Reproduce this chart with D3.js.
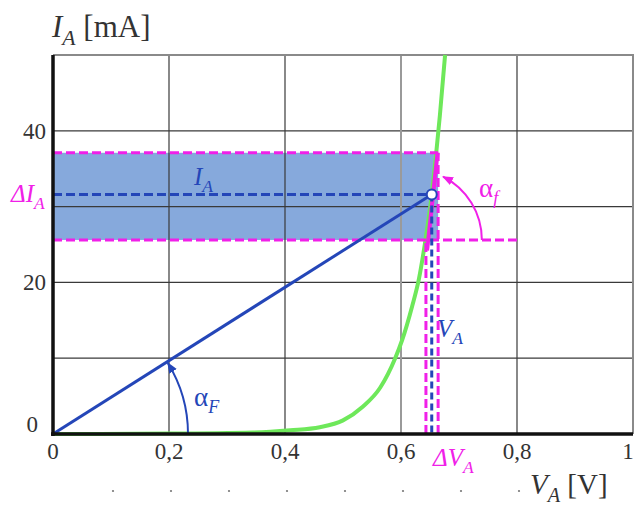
<!DOCTYPE html>
<html>
<head>
<meta charset="utf-8">
<script src="https://cdn.jsdelivr.net/npm/d3@7"></script>
<style>
  body { margin: 0; background: #fff; }
  svg text { font-family: "Liberation Serif", "DejaVu Serif", serif; }
</style>
</head>
<body>
<div class="chart"></div>
<script>
// Datos del grafico
var vTicks = [0, 0.2, 0.4, 0.6, 0.8, 1];
var vTickLabels = ["0", "0,2", "0,4", "0,6", "0,8", "1"];
var vMinor = [0.1, 0.2, 0.3, 0.4, 0.5, 0.6, 0.7, 0.8];
var iTicks = [0, 20, 40];
var iGrid = [10, 20, 30, 40];
var vGrid = [0.2, 0.4, 0.6, 0.8];

// Curva del diodo
var diodoV = [0, 0.20, 0.345, 0.409, 0.46, 0.50, 0.534, 0.564, 0.59, 0.602, 0.619, 0.631, 0.641, 0.653, 0.660, 0.667, 0.676];
var diodoI = [0, 0.05, 0.2, 0.5, 0.9, 1.8, 3.6, 6.1, 10.0, 12.4, 16.8, 20.5, 25.0, 31.6, 36.5, 42.0, 50];

// Punto de trabajo y variaciones
var puntoV = 0.653, puntoI = 31.6;
var deltaI = [25.6, 37.1];
var deltaV = [0.643, 0.664];
var tangenteV = [0.645, 0.663];
var tangenteI = [24.2, 37.1];
var limiteDeltaI = 0.805;

var width = 636, height = 508;
var x = d3.scaleLinear().domain([0, 1]).range([53, 633]);
var y = d3.scaleLinear().domain([0, 50]).range([434, 55]);

var svg = d3.select(".chart").append("svg")
    .attr("width", width)
    .attr("height", height);

var defs = svg.append("defs");
function flecha(id, color) {
    defs.append("marker")
        .attr("id", id)
        .attr("viewBox", "0 0 10 10")
        .attr("refX", 9).attr("refY", 5)
        .attr("markerWidth", 11).attr("markerHeight", 11)
        .attr("markerUnits", "userSpaceOnUse")
        .attr("orient", "auto")
        .append("path")
        .attr("d", "M0,1 L10,5 L0,9 Z")
        .attr("fill", color);
}
var azul = "#2446b8", magenta = "#f020e8", verde = "#6ee85a";
flecha("flechaAzul", azul);
flecha("flechaMagenta", magenta);

// Rectangulo azul (zona de variacion)
svg.append("rect")
    .attr("x", x(0))
    .attr("y", y(deltaI[1]))
    .attr("width", x(deltaV[1]) - x(0))
    .attr("height", y(deltaI[0]) - y(deltaI[1]))
    .attr("fill", "#86a9dc");

// Rejilla
svg.selectAll(".gridH").data(iGrid).enter().append("line")
    .attr("x1", x(0)).attr("x2", x(1))
    .attr("y1", function(d) { return y(d); })
    .attr("y2", function(d) { return y(d); })
    .attr("stroke", "#3a3a3a").attr("stroke-width", 1.2);
svg.selectAll(".gridV").data(vGrid).enter().append("line")
    .attr("x1", function(d) { return x(d); })
    .attr("x2", function(d) { return x(d); })
    .attr("y1", y(0)).attr("y2", y(50))
    .attr("stroke", function(d) { return d === 0.6 ? "#9a9a9a" : "#3a3a3a"; })
    .attr("stroke-width", function(d) { return d === 0.6 ? 2 : 1.2; });

// Borde superior y derecho
svg.append("path")
    .attr("d", "M" + x(0) + "," + y(50) + "H" + x(1) + "V" + y(0))
    .attr("fill", "none").attr("stroke", "#8a8a8a").attr("stroke-width", 2);

// Curva del diodo
var datosDiodo = diodoV.map(function(v, i) { return [v, diodoI[i]]; });
svg.append("path")
    .datum(datosDiodo)
    .attr("d", d3.line()
        .x(function(d) { return x(d[0]); })
        .y(function(d) { return y(d[1]); })
        .curve(d3.curveMonotoneX))
    .attr("fill", "none").attr("stroke", verde).attr("stroke-width", 4);

// Lineas magenta discontinuas
var guion = "9,4";
svg.append("line")
    .attr("x1", x(0)).attr("x2", x(deltaV[1]))
    .attr("y1", y(deltaI[1])).attr("y2", y(deltaI[1]))
    .attr("stroke", magenta).attr("stroke-width", 3).attr("stroke-dasharray", guion);
svg.append("line")
    .attr("x1", x(0)).attr("x2", x(limiteDeltaI))
    .attr("y1", y(deltaI[0])).attr("y2", y(deltaI[0]))
    .attr("stroke", magenta).attr("stroke-width", 3).attr("stroke-dasharray", guion);
svg.append("line")
    .attr("x1", x(deltaV[0])).attr("x2", x(deltaV[0]))
    .attr("y1", y(0)).attr("y2", y(deltaI[0]))
    .attr("stroke", magenta).attr("stroke-width", 3).attr("stroke-dasharray", guion);
svg.append("line")
    .attr("x1", x(deltaV[1])).attr("x2", x(deltaV[1]))
    .attr("y1", y(0)).attr("y2", y(deltaI[1]))
    .attr("stroke", magenta).attr("stroke-width", 3).attr("stroke-dasharray", guion);

// Tangente (magenta gruesa)
svg.append("line")
    .attr("x1", x(tangenteV[0])).attr("y1", y(tangenteI[0]))
    .attr("x2", x(tangenteV[1])).attr("y2", y(tangenteI[1]))
    .attr("stroke", magenta).attr("stroke-width", 4);

// Lineas azules del punto de trabajo
svg.append("line")
    .attr("x1", x(0)).attr("x2", x(puntoV))
    .attr("y1", y(puntoI)).attr("y2", y(puntoI))
    .attr("stroke", azul).attr("stroke-width", 3).attr("stroke-dasharray", guion);
svg.append("line")
    .attr("x1", x(puntoV)).attr("x2", x(puntoV))
    .attr("y1", y(puntoI)).attr("y2", y(0))
    .attr("stroke", azul).attr("stroke-width", 3).attr("stroke-dasharray", "7,4");
svg.append("line")
    .attr("x1", x(0)).attr("y1", y(0))
    .attr("x2", x(puntoV)).attr("y2", y(puntoI))
    .attr("stroke", azul).attr("stroke-width", 3);

// Arco alfa F
var cx = x(0), cy = y(0);
var angF = Math.atan2(y(0) - y(puntoI), x(puntoV) - x(0));
var rF = 135;
var pF = d3.path();
pF.moveTo(cx + rF, cy);
pF.arc(cx, cy, rF, 0, -angF + 0.01, true);
svg.append("path").attr("d", pF.toString())
    .attr("fill", "none").attr("stroke", azul).attr("stroke-width", 2)
    .attr("marker-end", "url(#flechaAzul)");

// Arco alfa f
var cfx = x(0.617), cfy = y(deltaI[0]);
var rf = 71;
var angf = 1.1;
var pf = d3.path();
pf.moveTo(cfx + rf, cfy);
pf.arc(cfx, cfy, rf, 0, -angf, true);
svg.append("path").attr("d", pf.toString())
    .attr("fill", "none").attr("stroke", magenta).attr("stroke-width", 2)
    .attr("marker-end", "url(#flechaMagenta)");

// Punto de trabajo
svg.append("circle")
    .attr("cx", x(puntoV)).attr("cy", y(puntoI)).attr("r", 5)
    .attr("fill", "#fff").attr("stroke", azul).attr("stroke-width", 2);

// Ejes gruesos
svg.append("line")
    .attr("x1", x(0)).attr("x2", x(0)).attr("y1", y(0) + 2).attr("y2", y(50))
    .attr("stroke", "#111").attr("stroke-width", 3.5);
svg.append("line")
    .attr("x1", x(0) - 2).attr("x2", x(1)).attr("y1", y(0)).attr("y2", y(0))
    .attr("stroke", "#111").attr("stroke-width", 3.5);

// Etiquetas de ticks
svg.selectAll(".tickV").data(vTicks).enter().append("text")
    .attr("x", function(d) { return x(d) - (d === 1 ? 5 : 0); })
    .attr("y", 459)
    .attr("text-anchor", "middle")
    .attr("font-size", 23)
    .attr("fill", "#333")
    .text(function(d, i) { return vTickLabels[i]; });
svg.selectAll(".tickI").data(iTicks).enter().append("text")
    .attr("x", function(d) { return d === 0 ? 38 : 46; })
    .attr("y", function(d) { return d === 0 ? y(d) - 2 : y(d) + 8; })
    .attr("text-anchor", "end")
    .attr("font-size", 23)
    .attr("fill", "#333")
    .text(function(d) { return d; });
svg.selectAll(".minor").data(vMinor).enter().append("circle")
    .attr("cx", function(d) { return x(d) + 2; })
    .attr("cy", 491)
    .attr("r", 1.1)
    .attr("fill", "#777");

// Textos con subindice
function etiqueta(px, py, pre, letra, sub, post, color, size) {
    var t = svg.append("text")
        .attr("x", px).attr("y", py)
        .attr("font-size", size).attr("fill", color);
    if (pre) t.append("tspan").attr("font-style", "italic").text(pre);
    t.append("tspan").attr("font-style", "italic").text(letra);
    t.append("tspan").attr("font-style", "italic")
        .attr("font-size", size * 0.7).attr("dy", size * 0.27).text(sub);
    if (post) t.append("tspan").attr("dy", -size * 0.27).text(post);
    return t;
}
etiqueta(52, 37, null, "I", "A", " [mA]", "#333", 31);
etiqueta(530, 494, null, "V", "A", " [V]", "#333", 29);
etiqueta(11, 202, "Δ", "I", "A", null, magenta, 25);
etiqueta(433, 466, "Δ", "V", "A", null, magenta, 25);
etiqueta(194, 185, null, "I", "A", null, azul, 25);
etiqueta(437, 337, null, "V", "A", null, azul, 25);

function alfa(px, py, sub, color) {
    var t = svg.append("text")
        .attr("x", px).attr("y", py)
        .attr("font-size", 27).attr("fill", color);
    t.append("tspan").text("α");
    t.append("tspan").attr("font-style", "italic")
        .attr("font-size", 18).attr("dy", 7).text(sub);
}
alfa(194, 406, "F", azul);
alfa(479, 197, "f", magenta);
</script>
</body>
</html>
